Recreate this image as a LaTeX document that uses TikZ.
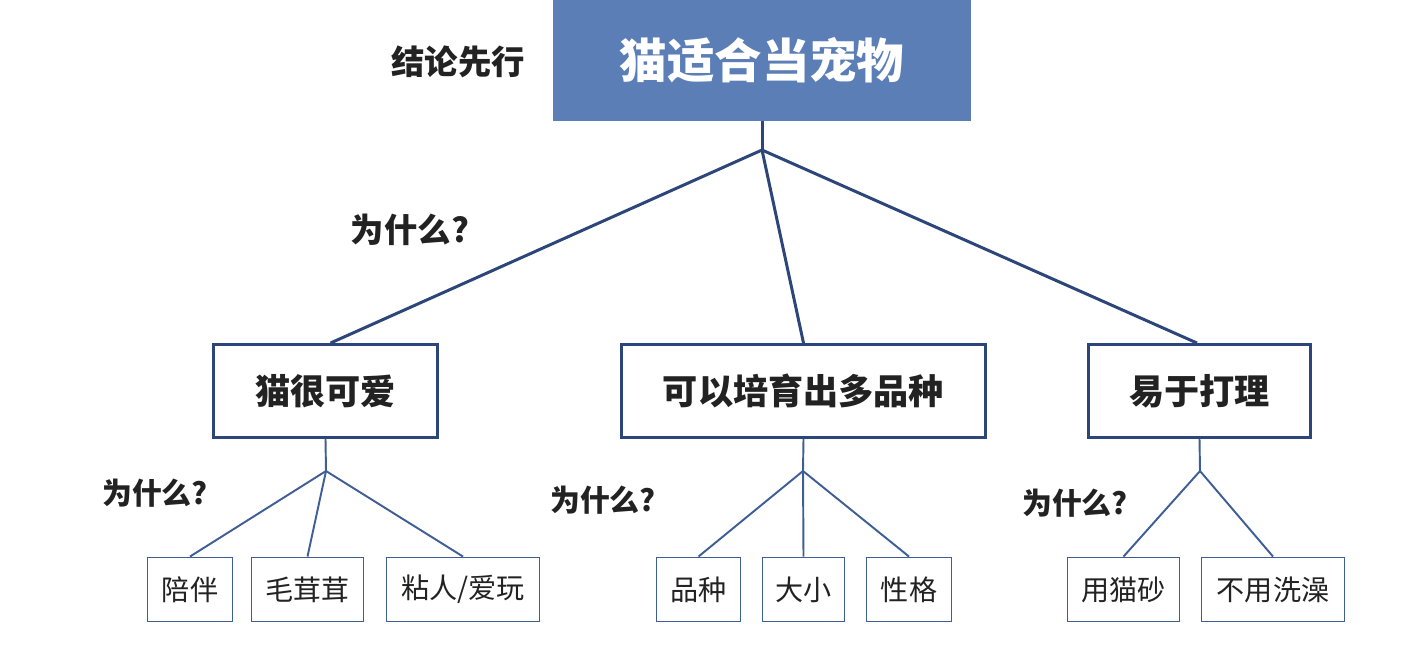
\documentclass[tikz,border=0pt]{standalone}
\usepackage{fontspec}
\setmainfont{Noto Sans CJK SC}
\definecolor{navy}{HTML}{2D4679}
\definecolor{lnavy}{HTML}{3F5E96}
\definecolor{topfill}{HTML}{5A7EB5}
\definecolor{txt}{HTML}{222222}
\tikzset{
  topbox/.style={fill=topfill, draw=none, text=white, font=\fontsize{27}{30}\selectfont\bfseries, inner sep=0pt},
  midbox/.style={draw=navy, line width=1.7pt, fill=white, text=txt, font=\fontsize{20}{24}\selectfont\bfseries, inner sep=0pt, minimum height=1.86cm},
  lowbox/.style={draw=lnavy, line width=1.1pt, fill=white, text=txt, font=\fontsize{16}{19}\selectfont, inner sep=0pt, minimum height=1.28cm},
  biglink/.style={draw=navy, line width=1.7pt},
  smalllink/.style={draw=lnavy, line width=1.1pt},
  lbl/.style={text=txt, font=\fontsize{19}{22}\selectfont\bfseries, inner sep=0pt},
  slbl/.style={text=txt, font=\fontsize{17}{20}\selectfont\bfseries, inner sep=0pt}
}
\begin{document}
\begin{tikzpicture}[x=0.02cm, y=-0.02cm]
\useasboundingbox (0,0) rectangle (1403,664);
% top
\node[topbox, minimum width=8.36cm, minimum height=2.42cm] (top) at (762,60.5) {猫适合当宠物};
\node[lbl] (concl) at (458,62) {结论先行};
\coordinate (tb) at (762,150);
% middle boxes
\node[midbox, minimum width=4.48cm] (m1) at (325.5,391) {猫很可爱};
\node[midbox, minimum width=7.28cm] (m2) at (803.5,391) {可以培育出多品种};
\node[midbox, minimum width=4.44cm] (m3) at (1199.5,391) {易于打理};
\draw[biglink] (top.south) -- (tb);
\draw[biglink] (tb) -- ([xshift=0.1cm]m1.north);
\draw[biglink] (tb) -- (m2.north);
\draw[biglink] (tb) -- ([xshift=-0.05cm]m3.north);
\node[lbl] (why0) at (410,230) {为什么?};
% bottom boxes
\node[lowbox, minimum width=1.7cm] (b1) at (190,589.5) {陪伴};
\node[lowbox, minimum width=2.24cm] (b2) at (307.5,589.5) {毛茸茸};
\node[lowbox, minimum width=3.06cm] (b3) at (463,589.5) {粘人/爱玩};
\node[lowbox, minimum width=1.68cm] (b4) at (698.5,589.5) {品种};
\node[lowbox, minimum width=1.64cm] (b5) at (803.5,589.5) {大小};
\node[lowbox, minimum width=1.7cm] (b6) at (909,589.5) {性格};
\node[lowbox, minimum width=2.24cm] (b7) at (1123.5,589.5) {用猫砂};
\node[lowbox, minimum width=2.86cm] (b8) at (1273,589.5) {不用洗澡};
\coordinate (j1) at (326,471);
\coordinate (j2) at (803,471);
\coordinate (j3) at (1200,471);
\draw[smalllink] (m1.south) -- (j1);
\draw[smalllink] (j1) -- (b1.north);
\draw[smalllink] (j1) -- (b2.north);
\draw[smalllink] (j1) -- (b3.north);
\draw[smalllink] (m2.south) -- (j2);
\draw[smalllink] (j2) -- (b4.north);
\draw[smalllink] (j2) -- (b5.north);
\draw[smalllink] (j2) -- (b6.north);
\draw[smalllink] (m3.south) -- (j3);
\draw[smalllink] (j3) -- (b7.north);
\draw[smalllink] (j3) -- (b8.north);
\node[slbl] (why1) at (155,493) {为什么?};
\node[slbl] (why2) at (603,500) {为什么?};
\node[slbl] (why3) at (1075,503) {为什么?};
\end{tikzpicture}
\end{document}
